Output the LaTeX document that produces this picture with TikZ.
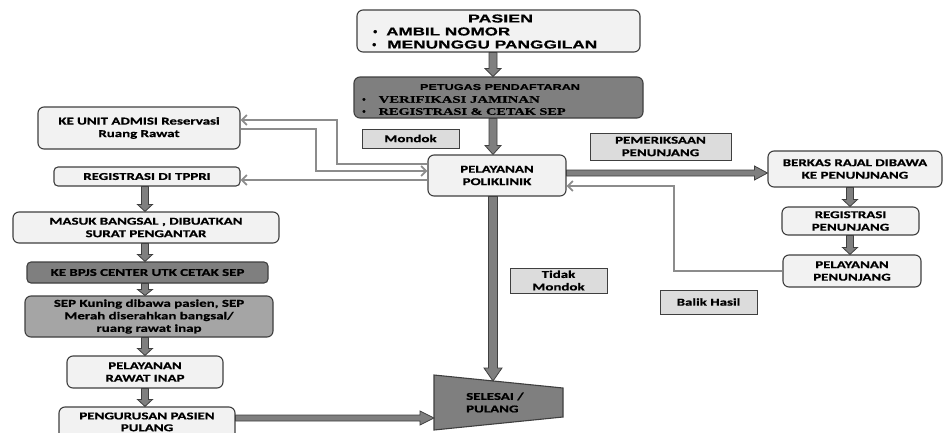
\documentclass[tikz,border=0pt]{standalone}
\usepackage{fontspec}
\usepackage{graphicx}
\setmainfont{Carlito Bold}[FakeStretch=1.42, FakeBold=0.8]
\newfontfamily\arialf{Liberation Sans Bold}[FakeBold=0.5]
\newfontfamily\timesf{Liberation Serif Bold}[FakeBold=0.5]
\usetikzlibrary{calc,arrows.meta}
\definecolor{lightc}{HTML}{F2F2F2}
\definecolor{bordc}{HTML}{3F3F3F}
\definecolor{darkc}{HTML}{7F7F7F}
\definecolor{midc}{HTML}{A5A5A5}
\definecolor{lblc}{HTML}{DCDCDC}
\definecolor{arrc}{HTML}{7F7F7F}
\definecolor{arrbord}{HTML}{404040}
\definecolor{thinc}{HTML}{8C8C8C}
\tikzset{
  rbox/.style={draw=bordc, fill=lightc, line width=1.1pt, rounded corners=6pt, inner sep=0pt, align=center,
    font=\fontsize{10.5}{12.5}\selectfont},
  lbl/.style={draw=bordc, fill=lblc, line width=1pt, inner sep=0pt, align=center,
    font=\fontsize{10.5}{12.5}\selectfont},
  txt/.style={inner sep=0pt, align=left},
  barrow/.style={fill=arrc, draw=arrbord, line width=0.8pt, line join=miter},
  thinarr/.style={draw=thinc, line width=1.8pt, -{Straight Barb[length=5pt,width=10pt]}},
}
\newcommand\blockarrow[5]{%
  \coordinate (baA) at (#1);
  \coordinate (baB) at (#2);
  \coordinate (baH) at ($(baB)!#5!(baA)$);
  \filldraw[barrow] ($(baA)!#3!90:(baB)$) -- ($(baH)!#3!90:(baB)$) -- ($(baH)!#4!90:(baB)$) -- (baB)
    -- ($(baH)!#4!-90:(baB)$) -- ($(baH)!#3!-90:(baB)$) -- ($(baA)!#3!-90:(baB)$) -- cycle;
}
\newcommand\fitw[2]{\resizebox{#1}{\height}{#2}}
\begin{document}
\begin{tikzpicture}[x=1pt,y=-1pt]
\clip (0,0) rectangle (943,432);
\fill[white] (0,0) rectangle (943,432);
% top
\node[rbox, minimum width=283pt, minimum height=42pt] (pas) at (498.5,31) {};
\node[txt, font=\arialf\fontsize{11.5}{13}\selectfont] (pasT) at (500.5,18.5) {\fitw{65pt}{PASIEN}};
\node[txt, anchor=west, font=\arialf\fontsize{11.5}{13}\selectfont] (pasA) at (373,31.5) {•\hspace{9pt}\fitw{124pt}{AMBIL NOMOR}};
\node[txt, anchor=west, font=\arialf\fontsize{11.5}{13}\selectfont] (pasB) at (372,44.5) {•\hspace{11pt}\fitw{210pt}{MENUNGGU PANGGILAN}};
\node[rbox, fill=darkc, minimum width=289pt, minimum height=41pt] (pet) at (498.5,97.5) {};
\node[txt, font=\arialf\fontsize{8.6}{10}\selectfont] (petT) at (500,87) {\fitw{160pt}{PETUGAS PENDAFTARAN}};
\node[txt, anchor=west, font=\timesf\fontsize{10}{12}\selectfont] (petA) at (362,99.5) {•\hspace{13pt}\fitw{161pt}{VERIFIKASI JAMINAN}};
\node[txt, anchor=west, font=\timesf\fontsize{10}{12}\selectfont] (petB) at (362,111.5) {•\hspace{13pt}\fitw{187pt}{REGISTRASI \& CETAK SEP}};
\node[rbox, minimum width=138pt, minimum height=41pt] (poli) at (497,175.5) {PELAYANAN\\POLIKLINIK};
% left column
\node[rbox, minimum width=202pt, minimum height=42pt] (adm) at (139,128) {KE UNIT ADMISI Reservasi\\Ruang Rawat};
\node[rbox, rounded corners=4pt, minimum width=186pt, minimum height=19pt] (reg) at (147,176.5) {REGISTRASI DI TPPRI};
\node[rbox, minimum width=266pt, minimum height=31pt] (mas) at (146,227.5) {MASUK BANGSAL , DIBUATKAN\\SURAT PENGANTAR};
\node[rbox, rounded corners=4pt, fill=darkc, minimum width=241pt, minimum height=21pt] (bpjs) at (147.5,272.5) {KE BPJS CENTER UTK CETAK SEP};
\node[rbox, fill=midc, minimum width=248pt, minimum height=41pt] (sep) at (149,316.5) {SEP Kuning dibawa pasien, SEP\\Merah diserahkan bangsal/\\ruang rawat inap};
\node[rbox, minimum width=156pt, minimum height=32pt] (rawat) at (145,372) {PELAYANAN\\RAWAT INAP};
\node[rbox, minimum width=176pt, minimum height=36pt] (peng) at (147,425) {};
\node[txt, align=center, anchor=base, font=\fontsize{10.5}{11.8}\selectfont] (pengT) at (147,431.2) {PENGURUSAN PASIEN\\PULANG};
% right column
\node[rbox, minimum width=174pt, minimum height=36pt] (ber) at (855,169) {BERKAS RAJAL DIBAWA\\KE PENUNJNANG};
\node[rbox, minimum width=137pt, minimum height=28pt] (regp) at (850.5,221) {REGISTRASI\\PENUNJANG};
\node[rbox, minimum width=138pt, minimum height=32pt] (pelp) at (852,271) {PELAYANAN\\PENUNJANG};
% labels
\node[lbl, minimum width=97pt, minimum height=19pt] (mon) at (410.5,138.5) {Mondok};
\node[lbl, minimum width=141pt, minimum height=27pt] (pem) at (660.5,146.5) {PEMERIKSAAN\\PENUNJANG};
\node[lbl, minimum width=97pt, minimum height=25pt] (tid) at (558.5,280.5) {Tidak\\Mondok};
\node[lbl, minimum width=97pt, minimum height=24pt] (bal) at (708.5,302) {Balik Hasil};
% selesai
\filldraw[fill=darkc, draw=bordc, line width=1.1pt] (434,375) -- (563,388) -- (563,417) -- (434,430) -- cycle;
\node[txt, anchor=west, font=\fontsize{10.5}{12.5}\selectfont] (sel) at (466,402.5) {SELESAI /\\PULANG};
\coordinate (selT) at (493,381);
\coordinate (selL) at (434,418);
% axes for arrows
\coordinate (cM) at (493,0);
\coordinate (cL) at (145,0);
\coordinate (cR) at (850,0);
% thin connectors
\coordinate (p1) at ($(poli.west)+(0,-11.5)$);
\coordinate (a1) at ($(adm.east)+(0,-8)$);
\coordinate (k1) at (337,0);
\draw[thinarr] (p1) -| (k1 |- a1) -- (a1);
\coordinate (a2) at ($(adm.east)+(0,1)$);
\coordinate (p2) at ($(poli.west)+(0,-4.5)$);
\coordinate (k2) at (316,0);
\draw[thinarr] (a2) -| (k2 |- p2) -- (p2);
\coordinate (p3) at ($(poli.west)+(0,4.5)$);
\draw[thinarr] (p3) -- (reg.east |- p3);
\coordinate (p4) at ($(poli.east)+(0,10.5)$);
\coordinate (k4) at (674,0);
\draw[thinarr] (pelp.west) -| (k4 |- p4) -- (p4);
% block arrows
\blockarrow{pas.south -| cM}{pet.north -| cM}{4pt}{8pt}{8pt}
\blockarrow{pet.south -| cM}{poli.north -| cM}{4pt}{8pt}{9pt}
\blockarrow{poli.south -| cM}{selT}{4.5pt}{9pt}{13pt}
\coordinate (p5) at ($(poli.east)+(0,-2.5)$);
\blockarrow{p5}{ber.west |- p5}{3pt}{7pt}{13pt}
\coordinate (g1) at ($(peng.east)+(0,-7)$);
\blockarrow{g1}{selL}{3pt}{7pt}{14pt}
\blockarrow{reg.south -| cL}{mas.north -| cL}{3.5pt}{7.5pt}{7pt}
\blockarrow{mas.south -| cL}{bpjs.north -| cL}{3.5pt}{7.5pt}{7pt}
\blockarrow{bpjs.south -| cL}{sep.north -| cL}{3.5pt}{7.5pt}{6pt}
\blockarrow{sep.south -| cL}{rawat.north -| cL}{3.5pt}{7.5pt}{7pt}
\blockarrow{rawat.south -| cL}{peng.north -| cL}{3.5pt}{7.5pt}{7pt}
\blockarrow{ber.south -| cR}{regp.north -| cR}{3.5pt}{7.5pt}{7pt}
\blockarrow{regp.south -| cR}{pelp.north -| cR}{3.5pt}{7.5pt}{7pt}
\end{tikzpicture}
\end{document}
